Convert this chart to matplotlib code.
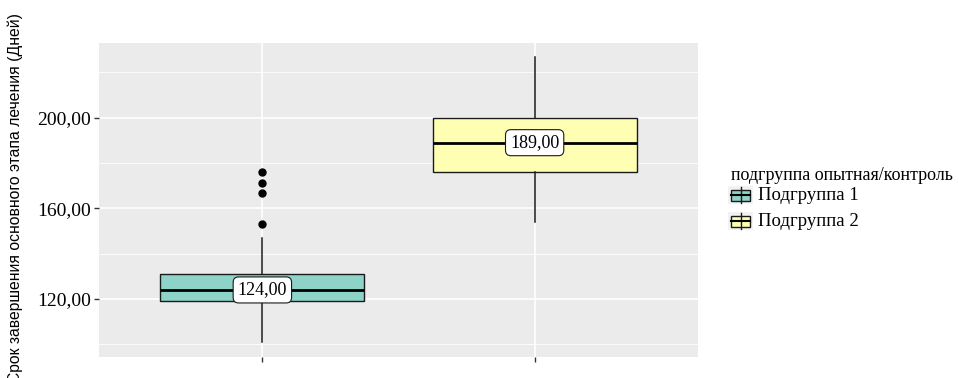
import matplotlib
matplotlib.use("Agg")
import matplotlib.pyplot as plt
import matplotlib.transforms as mtransforms
from matplotlib.patches import Rectangle
from matplotlib.lines import Line2D
from matplotlib.ticker import FuncFormatter, FixedLocator

# сводные статистики по подгруппам
groups = ["Подгруппа 1", "Подгруппа 2"]
colors = ["#8DD3C7", "#FFFFB3"]
q1 = [119, 176]
medians = [124, 189]
q3 = [131, 200]
whisk_lo = [101, 154]
whisk_hi = [147, 227]
outliers = [[153, 167, 171, 176], []]

y_major = [120, 160, 200]
y_minor = [100, 140, 180, 220]

serif = ["Liberation Serif", "DejaVu Serif"]
sans = ["Liberation Sans", "DejaVu Sans"]

W, H = 959, 378
fig = plt.figure(figsize=(W / 100, H / 100), dpi=100)
ax = fig.add_axes([99 / W, 1 - 357 / H, 599 / W, 314 / H])
ax.set_facecolor("#EBEBEB")
for s in ax.spines.values():
    s.set_visible(False)

# сетка в стиле ggplot
for y in y_minor:
    ax.axhline(y, color="white", lw=0.6, zorder=0)
for y in y_major:
    ax.axhline(y, color="white", lw=1.2, zorder=0)
for x in range(1, len(groups) + 1):
    ax.axvline(x, color="white", lw=1.2, zorder=0)

stats = []
for i, g in enumerate(groups):
    stats.append(dict(label=g, q1=q1[i], med=medians[i], q3=q3[i],
                      whislo=whisk_lo[i], whishi=whisk_hi[i], fliers=outliers[i]))

bp = ax.bxp(stats, positions=range(1, len(groups) + 1), widths=0.75,
            patch_artist=True, showcaps=False,
            boxprops=dict(edgecolor="#1a1a1a", linewidth=1.0),
            whiskerprops=dict(color="#1a1a1a", linewidth=1.1),
            medianprops=dict(color="black", linewidth=2.0),
            flierprops=dict(marker="o", markerfacecolor="black",
                            markeredgecolor="black", markersize=5))
for box, c in zip(bp["boxes"], colors):
    box.set_facecolor(c)

# подписи медиан
for i, m in enumerate(medians):
    ax.text(i + 1, m, f"{m:.2f}".replace(".", ","), ha="center", va="center",
            family=serif, fontsize=13, zorder=5,
            bbox=dict(boxstyle="round,pad=0.25,rounding_size=0.3",
                      facecolor="white", edgecolor="#1a1a1a", linewidth=0.8))

ax.set_xlim(0.4, 2.6)
ax.set_ylim(94.4, 233)
ax.set_xticks([1, 2])
ax.set_xticklabels(["", ""])
ax.yaxis.set_major_locator(FixedLocator(y_major))
ax.yaxis.set_major_formatter(FuncFormatter(lambda v, p: f"{v:.2f}".replace(".", ",")))
ax.tick_params(axis="both", length=3.5, width=1.0, color="#333333", pad=2)
for lab in ax.get_yticklabels():
    lab.set_fontfamily(serif)
    lab.set_fontsize(14)
    lab.set_color("black")

fig.text(15 / W, 1 - 198 / H, "Срок завершения основного этапа лечения (Дней)",
         rotation=90, ha="center", va="center", family=sans, fontsize=11.3)

# легенда: координаты в пикселях, ось y вниз
px = mtransforms.Affine2D().scale(1 / W, -1 / H).translate(0, 1) + fig.transFigure

fig.text(731, 180, "подгруппа опытная/контроль", transform=px,
         ha="left", va="baseline", family=serif, fontsize=13)

for i, (g, c) in enumerate(zip(groups, colors)):
    top = 186 + i * 26
    fig.patches.append(Rectangle((728, top), 25, 18, transform=px,
                                 facecolor="#F2F2F2", edgecolor="none"))
    fig.lines.append(Line2D([740.5, 740.5], [top + 1, top + 17], transform=px,
                            color="#1a1a1a", lw=1.0))
    fig.patches.append(Rectangle((731, top + 3.5), 19, 11, transform=px,
                                 facecolor=c, edgecolor="#1a1a1a", lw=1.0))
    fig.lines.append(Line2D([731, 750], [top + 9, top + 9], transform=px,
                            color="black", lw=1.5))
    fig.text(758, top + 9, g, transform=px, ha="left", va="center",
             family=serif, fontsize=13.5)

fig.savefig("out.png", dpi=100)
